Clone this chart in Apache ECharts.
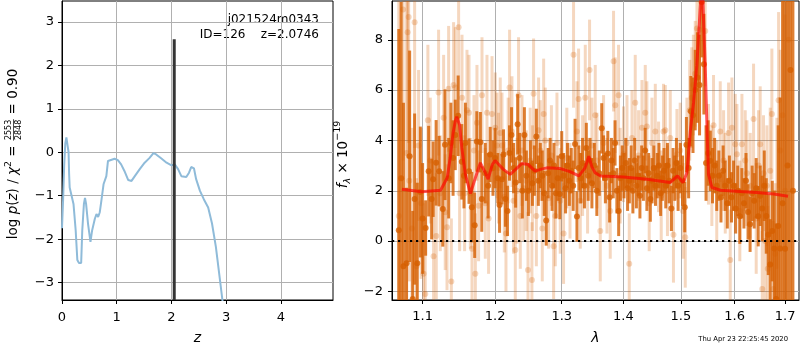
<!DOCTYPE html>
<html><head><meta charset="utf-8">
<script src="https://cdn.jsdelivr.net/npm/echarts@6/dist/echarts.min.js"></script>
<style>html,body{margin:0;padding:0;background:#fff}#c{width:800px;height:350px}</style>
</head><body><div id="c"></div>
<script>
// ---------- left panel: log p(z) ----------
const zGrid = [0, 0.02, 0.04, 0.06, 0.08, 0.10, 0.12, 0.13, 0.14, 0.17, 0.21, 0.25, 0.28, 0.31, 0.35, 0.37, 0.40, 0.42, 0.44, 0.475,
  0.52, 0.55, 0.60, 0.63, 0.66, 0.69, 0.72, 0.76, 0.81, 0.84, 0.87, 0.96, 1.02, 1.08, 1.14, 1.21, 1.27, 1.33, 1.42, 1.51,
  1.60, 1.67, 1.72, 1.81, 1.91, 2.00, 2.06, 2.12, 2.18, 2.27, 2.32, 2.36, 2.41, 2.45, 2.52, 2.59, 2.67, 2.74, 2.81, 2.87,
  2.93, 2.97];
const logPz = [-1.75, -1.1, -0.3, 0.2, 0.34, 0.3, 0.0, -0.5, -0.81, -0.85, -1.19, -1.8, -2.48, -2.55, -2.55, -1.8, -1.19, -1.05, -1.19, -1.64,
  -2.06, -1.8, -1.53, -1.42, -1.49, -1.38, -1.11, -0.73, -0.55, -0.2, -0.17, -0.15, -0.18, -0.28, -0.43, -0.64, -0.66, -0.55, -0.39, -0.24,
  -0.13, -0.02, -0.05, -0.14, -0.24, -0.30, -0.28, -0.39, -0.55, -0.57, -0.47, -0.34, -0.37, -0.62, -0.89, -1.08, -1.27, -1.64, -2.17, -2.78,
  -3.40, -3.9];
const zBest = 2.05;
const zBestTop = 2.6;
const zTicks = [0, 1, 2, 3, 4];
const logPTicks = [-3, -2, -1, 0, 1, 2, 3];

// ---------- right panel: spectrum ----------
const lamTicks = [1.1, 1.2, 1.3, 1.4, 1.5, 1.6, 1.7];
const fluxTicks = [-2, 0, 2, 4, 6, 8];

const modelWave = [1.073, 1.099, 1.124, 1.133, 1.137, 1.141, 1.144, 1.146, 1.150, 1.153,
  1.158, 1.165, 1.172, 1.179, 1.186, 1.190, 1.196, 1.200, 1.203, 1.212,
  1.222, 1.230, 1.239, 1.249, 1.259, 1.267, 1.277, 1.298, 1.313, 1.327,
  1.337, 1.343, 1.348, 1.353, 1.362, 1.400, 1.440, 1.481, 1.494, 1.504,
  1.511, 1.517, 1.523, 1.529, 1.535, 1.539, 1.5445, 1.548, 1.5505, 1.557,
  1.573, 1.611, 1.643, 1.677, 1.706];
const modelFlux = [2.06, 1.96, 2.02, 2.52, 3.3, 4.3, 4.75, 4.94, 4.61, 3.70,
  2.65, 1.89, 2.52, 3.11, 2.72, 2.46, 3.04, 3.2, 3.11, 2.85,
  2.65, 2.85, 3.08, 3.04, 2.78, 2.85, 2.91, 2.88, 2.76, 2.59,
  2.91, 3.37, 2.95, 2.72, 2.59, 2.55, 2.46, 2.33, 2.59, 2.33,
  2.72, 4.35, 5.5, 6.97, 9.19, 10.3, 6.97, 4.36, 2.65, 2.13,
  2.02, 1.97, 1.93, 1.87, 1.78];

const darkWave = [
  1.069, 1.072, 1.075, 1.079, 1.083, 1.087, 1.0895, 1.093, 1.097, 1.100,
  1.104, 1.108, 1.112, 1.114, 1.118, 1.122, 1.127, 1.130, 1.135, 1.138,
  1.141, 1.144, 1.148, 1.153, 1.156, 1.158, 1.163, 1.167, 1.171, 1.174,
  1.179, 1.181, 1.186, 1.190, 1.193, 1.197, 1.200, 1.204, 1.2065, 1.210,
  1.2123, 1.215, 1.218, 1.221, 1.224, 1.227, 1.230, 1.233, 1.236, 1.240,
  1.243, 1.246, 1.249, 1.252, 1.255, 1.258, 1.261, 1.264, 1.267, 1.270,
  1.273, 1.276, 1.279, 1.282, 1.285, 1.288, 1.291, 1.294, 1.297, 1.300,
  1.303, 1.306, 1.309, 1.312, 1.315, 1.318, 1.321, 1.324, 1.327, 1.330,
  1.333, 1.336, 1.339, 1.342, 1.345, 1.348, 1.352, 1.356, 1.360, 1.364,
  1.367, 1.370, 1.374, 1.377, 1.380, 1.383, 1.386, 1.389, 1.392, 1.395,
  1.398, 1.401, 1.404, 1.407, 1.410, 1.413, 1.416, 1.419, 1.422, 1.425,
  1.428, 1.431, 1.434, 1.437, 1.440, 1.443, 1.446, 1.449, 1.452, 1.455,
  1.458, 1.461, 1.464, 1.467, 1.470, 1.473, 1.476, 1.479, 1.483, 1.486,
  1.489, 1.492, 1.495, 1.499, 1.503, 1.507, 1.510, 1.514, 1.518, 1.522,
  1.526, 1.530, 1.534, 1.538, 1.542, 1.546, 1.550, 1.554, 1.558, 1.562,
  1.566, 1.570, 1.574, 1.578, 1.582, 1.586, 1.590, 1.594, 1.598, 1.602,
  1.606, 1.610, 1.614, 1.618, 1.622, 1.626, 1.630, 1.634, 1.638, 1.642,
  1.646, 1.650, 1.654, 1.658, 1.662, 1.666, 1.670, 1.674, 1.678, 1.682,
  1.686, 1.690, 1.695, 1.700, 1.705, 1.711, 1.716];
const darkFlux = [
  0.43, 2.5, -1.0, -0.88, 3.37, -2.3, 1.67, -0.88, 1.95, 0.9,
  0.52, 2.78, 1.67, 2.46, 3.11, 2.78, 1.28, 3.83, 2.5, 3.9,
  3.3, 4.22, 4.98, 3.15, 2.6, 3.9, 2.78, 1.35, 0.63, 3.96,
  3.93, 1.67, 2.7, 2.2, 3.44, 2.9, 3.3, 2.5, 1.43, 2.46,
  3.44, 1.67, 1.2, 3.5, 4.22, 2.9, 2.33, 4.64, 3.3, 2.0,
  4.22, 2.6, 2.0, 3.0, 2.3, 2.8, 4.16, 2.4, 3.0, 2.6,
  1.9, 0.82, 2.7, 3.2, 2.2, 3.0, 1.9, 2.5, 1.87, 3.37,
  2.6, 2.1, 3.0, 2.4, 2.8, 2.2, 3.86, 0.98, 2.9, 2.5,
  3.1, 2.2, 3.7, 2.6, 3.2, 2.3, 3.0, 2.0, 2.7, 4.48,
  3.3, 2.5, 3.48, 1.74, 3.2, 2.7, 3.9, 2.0, 1.2, 2.5,
  2.9, 2.6, 3.1, 2.1, 2.4, 2.9, 2.0, 3.2, 2.2, 2.6,
  1.8, 2.9, 2.5, 3.6, 2.1, 2.7, 1.67, 2.4, 2.9, 2.2,
  2.6, 3.0, 1.9, 2.5, 2.8, 2.2, 3.0, 2.4, 1.3, 2.8,
  2.5, 3.1, 2.2, 2.9, 2.4, 1.35, 3.83, 2.9, 5.16, 5.0,
  6.0, 6.5, 6.2, 9.5, 7.03, 3.1, 3.5, 3.19, 2.6, 3.0,
  2.2, 2.6, 1.74, 2.8, 2.2, 1.5, 2.4, 1.74, 2.2, 1.3,
  2.0, 0.99, 1.9, 1.5, 2.4, 1.16, 0.67, 1.9, 1.6, 2.1,
  0.99, 1.8, 1.3, 2.2, 1.0, 0.25, -0.93, 0.4, -0.29, -2.3,
  0.6, -0.29, 1.5, -0.3, 3.0, 6.8, 2.0];
const darkErr = [
  8, 7, 6.5, 3.0, 4.2, 3.5, 3.4, 3.2, 2.6, 2.2,
  1.1, 1.8, 1.6, 1.5, 1.7, 1.4, 1.5, 2.2, 1.6, 1.6,
  1.5, 1.4, 1.6, 1.5, 1.3, 1.6, 1.3, 1.4, 1.3, 1.2,
  1.2, 1.3, 1.2, 1.3, 1.1, 1.1, 1.2, 1.0, 1.1, 1.0,
  1.0, 1.1, 1.0, 1.1, 1.1, 1.0, 1.0, 1.2, 1.0, 1.1,
  1.1, 1.0, 1.0, 1.0, 0.9, 1.0, 1.1, 1.0, 0.9, 1.0,
  0.9, 1.0, 1.0, 0.9, 1.0, 0.9, 1.0, 0.9, 1.0, 1.0,
  0.9, 1.0, 0.9, 1.0, 0.9, 1.0, 1.0, 1.0, 0.9, 1.0,
  1.0, 0.9, 1.0, 1.0, 0.9, 1.0, 0.9, 1.0, 0.9, 1.0,
  0.9, 1.0, 0.9, 1.0, 0.9, 1.0, 0.9, 0.9, 1.0, 0.9,
  0.9, 0.9, 1.0, 0.9, 0.9, 0.9, 0.9, 0.9, 0.9, 0.8,
  0.9, 0.9, 0.9, 0.9, 0.9, 0.8, 0.9, 0.9, 0.9, 0.8,
  0.9, 0.9, 0.9, 0.9, 0.9, 0.9, 0.9, 0.9, 0.9, 0.9,
  0.9, 1.0, 1.0, 1.0, 1.0, 1.0, 1.1, 1.2, 1.4, 1.5,
  1.6, 1.8, 2.0, 2.2, 2.0, 1.5, 1.3, 1.2, 1.1, 1.1,
  1.0, 1.0, 1.0, 1.0, 1.0, 1.0, 1.0, 1.0, 1.0, 1.0,
  1.0, 1.1, 1.0, 1.0, 1.1, 1.1, 1.1, 1.1, 1.1, 1.2,
  1.2, 1.2, 1.3, 1.4, 1.5, 1.6, 1.8, 2.0, 2.3, 3.0,
  4, 6, 9, 10, 12, 12, 12];

const lightWave = [
  1.069, 1.0745, 1.079, 1.0804, 1.0817, 1.0826, 1.086, 1.0895, 1.092, 1.0947,
  1.098, 1.1013, 1.1035, 1.107, 1.1102, 1.1146, 1.1182, 1.1213, 1.1236, 1.1281,
  1.1303, 1.1327, 1.1349, 1.1386, 1.1417, 1.1441, 1.1486, 1.150, 1.1533, 1.1569,
  1.1602, 1.163, 1.1649, 1.1672, 1.170, 1.1719, 1.1742, 1.1765, 1.1813, 1.186,
  1.1884, 1.1907, 1.1956, 1.2003, 1.2028, 1.205, 1.2075, 1.210, 1.2134, 1.2158,
  1.219, 1.2211, 1.2246, 1.2269, 1.2295, 1.232, 1.2343, 1.2369, 1.2394, 1.242,
  1.2459, 1.2484, 1.2517, 1.2543, 1.2551, 1.2568, 1.261, 1.2644, 1.267, 1.270,
  1.2721, 1.2746, 1.2797, 1.284, 1.2874, 1.290, 1.2926, 1.2977, 1.3029, 1.308,
  1.313, 1.3186, 1.324, 1.3266, 1.3293, 1.333, 1.3373, 1.341, 1.3442, 1.348,
  1.3534, 1.3562, 1.3616, 1.367, 1.3726, 1.378, 1.3835, 1.3863, 1.3918, 1.3946,
  1.4001, 1.406, 1.4098, 1.4145, 1.420, 1.4257, 1.4315, 1.4372, 1.440, 1.444,
  1.4488, 1.4546, 1.4603, 1.465, 1.469, 1.4722, 1.476, 1.481, 1.4867, 1.4929,
  1.4988, 1.504, 1.5079, 1.5109, 1.516, 1.5197, 1.5227, 1.5261, 1.5292, 1.5339,
  1.5445, 1.5505, 1.5568, 1.560, 1.566, 1.5726, 1.5789, 1.5821, 1.5884, 1.5916,
  1.5948, 1.6012, 1.6044, 1.610, 1.6141, 1.6205, 1.6238, 1.6303, 1.6368, 1.642,
  1.6466, 1.6499, 1.6565, 1.6598, 1.6632, 1.6699, 1.6732, 1.676, 1.6799, 1.6833,
  1.6867, 1.6901, 1.6948, 1.700, 1.7072, 1.654, 1.665];
const lightFlux = [
  1.0, 9.2, 3.5, 8.3, 8.9, 2.4, 0.5, 8.7, -1.0, 3.8,
  1.5, -1.3, -2.1, 4.8, 3.2, -0.6, 0.2, 5.9, 1.9, 4.9,
  1.15, 0.55, 6.05, -1.6, 6.2, 6.1, 8.5, 1.9, 5.7, 1.9,
  5.2, 5.1, 1.9, -0.3, 3.6, -1.3, 4.7, 1.4, 5.8, 1.5,
  5.1, 0.9, 5.05, 4.5, 3.8, 2.9, 4.3, 3.8, 1.75, 0.3,
  3.6, 6.1, 4.35, 1.6, -0.35, 2.0, 5.8, 1.0, 3.6, 2.1,
  2.4, -1.15, 3.2, -1.55, 2.5, 5.85, 1.0, 4.4, 3.6, 0.5,
  5.05, 4.0, 1.7, 3.4, -0.2, 1.0, 3.9, 1.6, 0.3, 3.3,
  2.0, 7.4, 4.35, 5.65, 1.6, 3.0, 5.7, 2.2, 6.8, 3.8,
  5.0, 3.2, 0.4, 3.9, 2.2, 1.2, 7.15, 5.4, 5.8, 2.6,
  3.45, 3.9, -0.9, 4.1, 5.5, 3.4, 4.5, 5.1, 4.55, 1.5,
  3.9, 4.35, 2.95, 1.8, 4.35, 4.4, 2.0, 4.1, 0.25, 3.45,
  3.6, 1.2, 0.15, 3.8, 5.2, 5.7, 6.2, 6.65, 8.45, 8.4,
  8.35, 3.45, 2.6, 4.6, 2.0, 4.35, 3.2, 2.3, 4.3, -0.75,
  4.5, 3.85, 3.45, 1.2, 3.85, 3.2, 2.7, 2.2, 4.85, 0.9,
  3.0, 3.85, 2.7, 0.0, 2.2, 2.8, 5.05, -1.9, -0.5, 1.9,
  5.6, 3.6, 5.0, 2.0, 8.0, -1.9, -1.1];
const lightErr = [
  9, 6, 7, 5, 5, 4, 4, 5, 3.5, 3,
  3, 2.8, 3, 3, 2.5, 2.5, 2.5, 2.5, 2.3, 2.5,
  2.3, 2.5, 2.5, 2.5, 2.5, 2.4, 2.5, 2.3, 2.5, 2.3,
  2.4, 2.3, 2.2, 2.3, 2.2, 2.4, 2.3, 2.2, 2.3, 2.2,
  2.3, 2.2, 2.3, 2.2, 2.1, 2.2, 2.2, 2.1, 2.2, 2.3,
  2.1, 2.3, 2.2, 2.1, 2.2, 2.1, 2.3, 2.1, 2.2, 2.1,
  2.0, 2.3, 2.1, 2.3, 2.1, 2.2, 2.0, 2.1, 2.0, 2.1,
  2.2, 2.1, 2.0, 2.0, 2.1, 2.0, 2.0, 2.1, 2.0, 2.0,
  1.9, 2.1, 2.0, 2.0, 1.9, 2.0, 2.1, 1.9, 2.0, 1.9,
  2.0, 1.9, 2.0, 1.9, 1.9, 1.9, 2.0, 1.9, 2.0, 1.9,
  1.9, 1.9, 2.0, 1.9, 1.9, 1.8, 1.9, 1.9, 1.8, 1.9,
  1.8, 1.9, 1.8, 1.8, 1.9, 1.8, 1.8, 1.9, 1.9, 1.8,
  1.9, 1.9, 2.0, 1.9, 2.0, 2.0, 2.0, 2.1, 2.2, 2.2,
  2.2, 2.0, 2.0, 2.0, 2.0, 2.0, 2.0, 2.0, 2.0, 2.0,
  2.0, 2.0, 2.0, 2.0, 2.0, 2.0, 2.1, 2.1, 2.2, 2.2,
  2.2, 2.3, 2.3, 2.4, 2.4, 2.5, 2.6, 2.7, 2.8, 3.0,
  3.5, 4, 5, 7, 8, 2.3, 2.5];

// ---------- rendering ----------
const FONT = '"DejaVu Sans", Verdana, sans-serif';
const lg = Math.log10;
const xLamMin = lg(1.0603), xLamMax = lg(1.7286);
const minus = v => (v < 0 ? '\u2212' + Math.abs(v) : String(v));

function errItem(color, barW, r) {
  return function (params, api) {
    const x = api.value(0), y = api.value(1), e = api.value(2);
    const p = api.coord([x, y]);
    const t = api.coord([x, y + e]);
    const b = api.coord([x, y - e]);
    return {
      type: 'group',
      children: [
        { type: 'rect', shape: { x: p[0] - barW / 2, y: t[1], width: barW, height: b[1] - t[1] }, style: { fill: color } },
        { type: 'circle', shape: { cx: p[0], cy: p[1], r: r }, style: { fill: color } }
      ]
    };
  };
}

const darkData = darkWave.map((w, i) => [lg(w), darkFlux[i], darkErr[i]]);
const lightData = lightWave.map((w, i) => [lg(w), lightFlux[i], lightErr[i]]);
const modelData = modelWave.map((w, i) => [lg(w), modelFlux[i]]);
const curveData = zGrid.map((z, i) => [z, logPz[i]]);

// rotated axis titles built from measured text pieces
const cv = document.createElement('canvas').getContext('2d');
function tw(t, font) { cv.font = font; return cv.measureText(t).width; }
function buildLabel(pieces, cx, cy) {
  let x = 0;
  const kids = [];
  pieces.forEach(p => {
    if (p.frac) {
      const w = Math.max(tw(p.num, p.font), tw(p.den, p.font)) + 2;
      kids.push({ type: 'text', x: x + w / 2, y: -4.5, style: { text: p.num, font: p.font, fill: '#000', align: 'center', verticalAlign: 'middle', textAlign: 'center', textVerticalAlign: 'middle' } });
      kids.push({ type: 'text', x: x + w / 2, y: 5, style: { text: p.den, font: p.font, fill: '#000', align: 'center', verticalAlign: 'middle', textAlign: 'center', textVerticalAlign: 'middle' } });
      kids.push({ type: 'line', shape: { x1: x + 0.5, y1: 0, x2: x + w - 0.5, y2: 0 }, style: { stroke: '#000', lineWidth: 0.7 } });
      x += w;
    } else {
      kids.push({ type: 'text', x: x, y: p.dy || 0, style: { text: p.t, font: p.font, fill: '#000', align: 'left', verticalAlign: 'middle', textAlign: 'left', textVerticalAlign: 'middle' } });
      x += tw(p.t, p.font);
    }
  });
  return { type: 'group', x: cx, y: cy + x / 2, rotation: Math.PI / 2, children: kids };
}
const fN = '13.5px ' + FONT, fI = 'italic 13.5px ' + FONT, fS = '9.5px ' + FONT, fSI = 'italic 9.5px ' + FONT, fF = '8px ' + FONT;
const leftTitle = buildLabel([
  { t: 'log ', font: fN }, { t: 'p', font: fI }, { t: '(', font: fN }, { t: 'z', font: fI }, { t: ') / ', font: fN },
  { t: '\u03c7', font: fI }, { t: '2', font: fS, dy: -5 }, { t: ' = ', font: fN },
  { frac: true, num: '2553', den: '2848', font: fF }, { t: ' = 0.90', font: fN }
], 13.5, 154);
const rightTitle = buildLabel([
  { t: 'f', font: fI }, { t: '\u03bb', font: fSI, dy: 4 }, { t: ' \u00d7 10', font: fN }, { t: '\u221219', font: fS, dy: -6 }
], 343.5, 154.5);

const axisCommon = {
  axisLine: { show: true, onZero: false, lineStyle: { color: '#000', width: 1 } },
  axisTick: { show: true, inside: false, length: 4, lineStyle: { color: '#000', width: 1 } },
  splitLine: { show: true, lineStyle: { color: '#b0b0b0', width: 1 } },
  axisLabel: { color: '#000', fontSize: 13, fontFamily: FONT }
};

const chart = echarts.init(document.getElementById('c'), null, { renderer: 'canvas' });
chart.setOption({
  animation: false,
  backgroundColor: '#fff',
  grid: [
    { left: 62, top: 1, width: 271, height: 303, show: true, borderColor: '#000', borderWidth: 1, containLabel: false },
    { left: 392, top: 1, width: 407, height: 303, show: true, borderColor: '#000', borderWidth: 1, containLabel: false }
  ],
  xAxis: [
    {
      gridIndex: 0, type: 'value', min: 0, max: 4.95,
      axisLine: axisCommon.axisLine, splitLine: axisCommon.splitLine,
      axisTick: Object.assign({}, axisCommon.axisTick, { customValues: zTicks }),
      axisLabel: Object.assign({}, axisCommon.axisLabel, { customValues: zTicks, margin: 11, formatter: minus }),
      name: 'z', nameLocation: 'middle', nameGap: 31,
      nameTextStyle: { fontStyle: 'italic', fontSize: 14, fontFamily: FONT, color: '#000' }
    },
    {
      gridIndex: 1, type: 'value', min: xLamMin, max: xLamMax,
      axisLine: axisCommon.axisLine, splitLine: axisCommon.splitLine,
      axisTick: Object.assign({}, axisCommon.axisTick, { customValues: lamTicks.map(lg) }),
      axisLabel: Object.assign({}, axisCommon.axisLabel, { customValues: lamTicks.map(lg), margin: 10, formatter: v => Math.pow(10, v).toFixed(1) }),
      name: '\u03bb', nameLocation: 'middle', nameGap: 31,
      nameTextStyle: { fontStyle: 'italic', fontSize: 14, fontFamily: FONT, color: '#000' }
    }
  ],
  yAxis: [
    {
      gridIndex: 0, type: 'value', min: -3.4, max: 3.48,
      axisLine: axisCommon.axisLine, splitLine: axisCommon.splitLine,
      axisTick: Object.assign({}, axisCommon.axisTick, { customValues: logPTicks }),
      axisLabel: Object.assign({}, axisCommon.axisLabel, { customValues: logPTicks, margin: 8, formatter: minus })
    },
    {
      gridIndex: 1, type: 'value', min: -2.34, max: 9.54,
      axisLine: axisCommon.axisLine, splitLine: axisCommon.splitLine,
      axisTick: Object.assign({}, axisCommon.axisTick, { customValues: fluxTicks }),
      axisLabel: Object.assign({}, axisCommon.axisLabel, { customValues: fluxTicks, margin: 9, formatter: minus })
    }
  ],
  graphic: [
    leftTitle, rightTitle,
    { type: 'text', x: 319, y: 20, style: { text: 'j021524m0343', font: '12px ' + FONT, fill: '#000', align: 'right', verticalAlign: 'middle', textAlign: 'right', textVerticalAlign: 'middle' } },
    { type: 'text', x: 319, y: 35, style: { text: 'ID=126    z=2.0746', font: '12px ' + FONT, fill: '#000', align: 'right', verticalAlign: 'middle', textAlign: 'right', textVerticalAlign: 'middle' } },
    { type: 'text', x: 788, y: 339, style: { text: 'Thu Apr 23 22:25:45 2020', font: '6.8px ' + FONT, fill: '#000', align: 'right', verticalAlign: 'middle', textAlign: 'right', textVerticalAlign: 'middle' } }
  ],
  series: [
    {
      type: 'line', xAxisIndex: 0, yAxisIndex: 0, data: curveData, showSymbol: false, symbol: 'none',
      lineStyle: { color: '#8fbbd9', width: 2 }, z: 3
    },
    {
      type: 'line', xAxisIndex: 0, yAxisIndex: 0, data: [[zBest, -3.4], [zBest, zBestTop]], showSymbol: false, symbol: 'none',
      lineStyle: { color: '#333', width: 3 }, z: 4
    },
    {
      type: 'custom', xAxisIndex: 1, yAxisIndex: 1, data: lightData, clip: true,
      encode: { x: 0, y: 1 }, renderItem: errItem('rgba(214,95,0,0.25)', 3, 3), z: 2
    },
    {
      type: 'custom', xAxisIndex: 1, yAxisIndex: 1, data: darkData, clip: true,
      encode: { x: 0, y: 1 }, renderItem: errItem('rgba(214,95,0,0.8)', 3, 3), z: 3
    },
    {
      type: 'line', xAxisIndex: 1, yAxisIndex: 1, data: [[xLamMin, 0], [xLamMax, 0]], showSymbol: false, symbol: 'none',
      lineStyle: { color: '#000', width: 2, type: [2.2, 3.8] }, z: 4
    },
    {
      type: 'line', xAxisIndex: 1, yAxisIndex: 1, data: modelData, showSymbol: false, symbol: 'none',
      lineStyle: { color: 'rgba(255,0,0,0.65)', width: 3 }, z: 5
    }
  ]
});
</script></body></html>
